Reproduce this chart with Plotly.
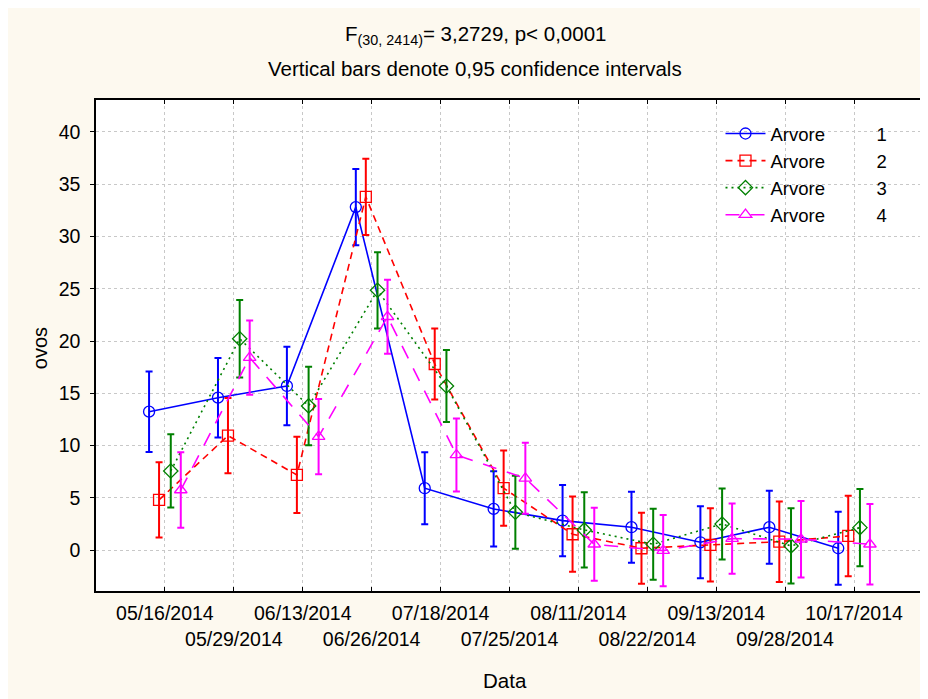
import numpy as np
import plotly.graph_objects as go

dates = ["05/16/2014", "05/29/2014", "06/13/2014", "06/26/2014", "07/18/2014",
         "07/25/2014", "08/11/2014", "08/22/2014", "09/13/2014", "09/28/2014", "10/17/2014"]

arvore1 = [13.25, 14.59, 15.71, 32.82, 5.93, 3.95, 2.83, 2.20, 0.76, 2.20, 0.19]
arvore1_ci = [3.85, 3.80, 3.75, 3.65, 3.45, 3.60, 3.40, 3.40, 3.45, 3.50, 3.50]
arvore2 = [4.81, 10.96, 7.20, 33.80, 17.81, 5.93, 1.53, 0.19, 0.51, 0.82, 1.37]
arvore2_ci = [3.60, 3.60, 3.65, 3.65, 3.40, 3.60, 3.60, 3.40, 3.50, 3.85, 3.85]
arvore3 = [7.58, 20.23, 13.80, 24.86, 15.71, 3.63, 1.94, 0.57, 2.51, 0.41, 2.16]
arvore3_ci = [3.50, 3.70, 3.75, 3.65, 3.45, 3.50, 3.60, 3.40, 3.40, 3.60, 3.70]
arvore4 = [5.76, 18.42, 10.86, 22.33, 9.11, 6.88, 0.57, -0.04, 1.11, 1.05, 0.57]
arvore4_ci = [3.60, 3.55, 3.60, 3.55, 3.50, 3.40, 3.50, 3.40, 3.35, 3.65, 3.85]

series_names = ["1", "2", "3", "4"]
series_vals = [arvore1, arvore2, arvore3, arvore4]
series_ci = [arvore1_ci, arvore2_ci, arvore3_ci, arvore4_ci]

colors = ["#0000FF", "#FF0000", "#008000", "#FF00FF"]
symbols = ["circle-open", "square-open", "diamond-open", "triangle-up-open"]
dashes = ["solid", "7px,5px", "2px,4px", "14px,11px"]
offsets = [-0.23, -0.085, 0.085, 0.23]

FONT = "Liberation Sans, Arial, sans-serif"
CREAM = "#FDF9EF"

# figure size and plot area in figure pixels (page has an 8px body offset)
W, H = 928, 699
L, R, T, B = 88, 917, 92, 583
def px_x(p):
    return (p - L) / (R - L)
def px_y(p):
    return (B - p) / (B - T)

fig = go.Figure()
idx = np.arange(len(dates))
for k in range(4):
    fig.add_trace(go.Scatter(
        x=idx + offsets[k], y=series_vals[k],
        mode="lines+markers",
        name="Arvore" + "\u00a0" * 10 + series_names[k],
        line=dict(color=colors[k], width=1.6, dash=dashes[k]),
        marker=dict(symbol=symbols[k], size=11, color=colors[k],
                    line=dict(width=1.3, color=colors[k])),
        error_y=dict(type="data", array=series_ci[k], visible=True,
                     color=colors[k], thickness=2, width=3.5),
    ))

ticktext = [d if i % 2 == 0 else "<br>" + d for i, d in enumerate(dates)]

fig.update_layout(
    width=W, height=H,
    margin=dict(l=L, r=W - R, t=T, b=H - B),
    paper_bgcolor=CREAM,
    plot_bgcolor="white",
    font=dict(family=FONT, size=19, color="black"),
    showlegend=True,
    legend=dict(x=px_x(714), y=px_y(107), xanchor="left", yanchor="top",
                bgcolor="rgba(0,0,0,0)", borderwidth=0,
                font=dict(size=18.5, family=FONT), itemwidth=40,
                tracegroupgap=0),
    xaxis=dict(range=[-1, 11], tickmode="array", tickvals=list(idx), ticktext=ticktext,
               tickangle=0,
               ticks="inside", ticklen=4, tickwidth=1, tickcolor="black",
               showline=True, linecolor="black", linewidth=1.5, mirror="ticks",
               showgrid=True, gridcolor="#C8C8C8", griddash="dot", gridwidth=1,
               zeroline=False, tickfont=dict(size=19.5),
               ticklabelstandoff=4),
    yaxis=dict(range=[-3.9, 43.06], tickmode="linear", tick0=0, dtick=5,
               ticks="outside", ticklen=4, tickwidth=1, tickcolor="black",
               showline=True, linecolor="black", linewidth=1.5, mirror=True,
               showgrid=True, gridcolor="#C8C8C8", griddash="dot", gridwidth=1,
               zeroline=False, tickfont=dict(size=19.5), ticklabelstandoff=6),
    yaxis2=dict(overlaying="y", side="right", range=[0, 11], tickmode="linear",
                tick0=0, dtick=1, ticks="inside", ticklen=4, tickcolor="black",
                showticklabels=False, showgrid=False, zeroline=False,
                showline=False),
)

ann = [
    dict(text="F<sub>(30, 2414)</sub>= 3,2729, p< 0,0001", x=px_x(468), y=px_y(27)),
    dict(text="Vertical bars denote 0,95 confidence intervals", x=px_x(468), y=px_y(60)),
    dict(text="Data", x=px_x(498), y=px_y(672)),
]
for a in ann:
    fig.add_annotation(xref="paper", yref="paper", showarrow=False,
                       xanchor="center", yanchor="middle",
                       font=dict(size=20.5, family=FONT), **a)
fig.add_annotation(text="ovos", xref="paper", yref="paper", x=px_x(32), y=px_y(340),
                   showarrow=False, textangle=-90, xanchor="center", yanchor="middle",
                   font=dict(size=20, family=FONT))

fig.write_html("out.html")
